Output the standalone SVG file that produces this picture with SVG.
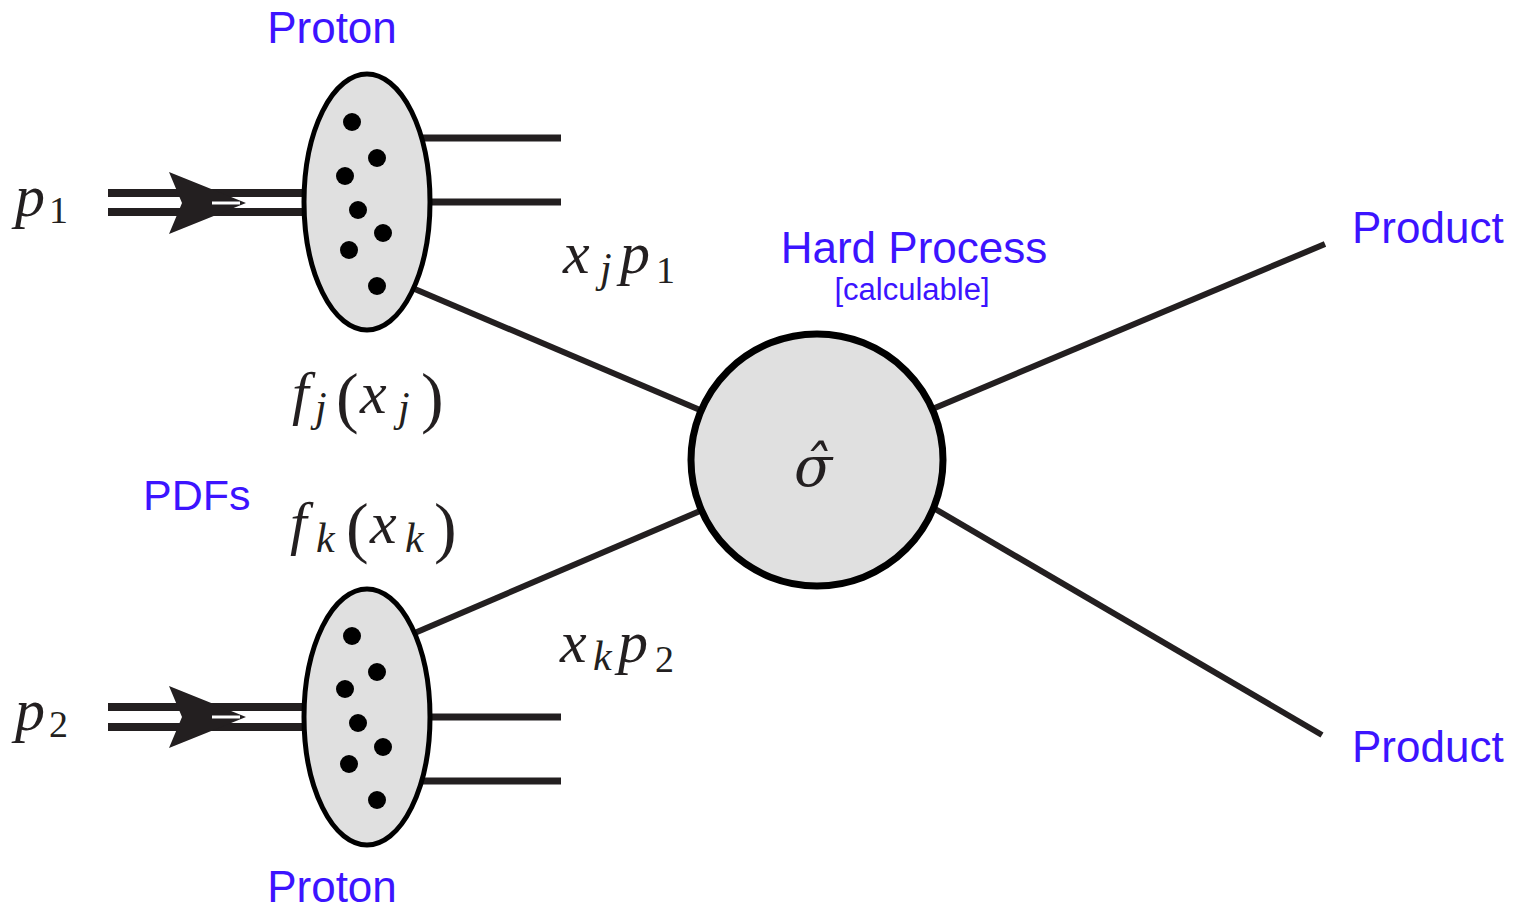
<svg xmlns="http://www.w3.org/2000/svg" width="1523" height="909" viewBox="0 0 1523 909">
<style>
.ln{stroke:#231f20;stroke-linecap:butt;fill:none}
.blob{fill:#e0e0e0;stroke:#000;stroke-width:5}
.dot{fill:#000}
.lbl{font-family:"Liberation Sans",Arial,sans-serif;fill:#3c14ff}
.m{font-family:"Liberation Serif","Times New Roman",serif;fill:#231f20;font-style:italic;font-size:60px}
.r{font-style:normal;font-size:38px}
.s{font-size:42px}
.par{font-style:normal;font-size:68px}
</style>
<defs>
<path id="ah" d="M0,0 L-77,-31 L-64,0 L-77,31 Z" fill="#231f20"/>
</defs>
<rect width="1523" height="909" fill="#fff"/>
<g id="connectors">
<line class="ln" x1="108" y1="193" x2="305" y2="193" stroke-width="8"/>
<line class="ln" x1="108" y1="212" x2="305" y2="212" stroke-width="8"/>
<line class="ln" x1="108" y1="707" x2="305" y2="707" stroke-width="8"/>
<line class="ln" x1="108" y1="727" x2="305" y2="727" stroke-width="8"/>
<line class="ln" x1="420" y1="138" x2="561" y2="138" stroke-width="7"/>
<line class="ln" x1="425" y1="202" x2="561" y2="202" stroke-width="7"/>
<line class="ln" x1="425" y1="717" x2="561" y2="717" stroke-width="7"/>
<line class="ln" x1="420" y1="781" x2="561" y2="781" stroke-width="7"/>
<line class="ln" x1="410" y1="287" x2="700" y2="410" stroke-width="6"/>
<line class="ln" x1="410" y1="635" x2="700" y2="511" stroke-width="6"/>
<line class="ln" x1="930" y1="410" x2="1325" y2="244" stroke-width="6"/>
<line class="ln" x1="930" y1="506" x2="1322" y2="735" stroke-width="6"/>
<use href="#ah" x="246" y="203"/>
<use href="#ah" x="246" y="717"/>
<line x1="212" y1="203" x2="240" y2="203" stroke="#fff" stroke-width="3"/>
<line x1="212" y1="717" x2="240" y2="717" stroke="#fff" stroke-width="3"/>
</g>
<g id="proton1">
<ellipse class="blob" cx="367" cy="202" rx="63" ry="128"/>
<circle class="dot" cx="352" cy="122" r="9"/>
<circle class="dot" cx="377" cy="158" r="9"/>
<circle class="dot" cx="345" cy="176" r="9"/>
<circle class="dot" cx="358" cy="210" r="9"/>
<circle class="dot" cx="383" cy="233" r="9"/>
<circle class="dot" cx="349" cy="250" r="9"/>
<circle class="dot" cx="377" cy="286" r="9"/>
</g>
<g id="proton2">
<ellipse class="blob" cx="367" cy="717" rx="63" ry="128"/>
<circle class="dot" cx="352" cy="636" r="9"/>
<circle class="dot" cx="377" cy="672" r="9"/>
<circle class="dot" cx="345" cy="689" r="9"/>
<circle class="dot" cx="358" cy="723" r="9"/>
<circle class="dot" cx="383" cy="747" r="9"/>
<circle class="dot" cx="349" cy="764" r="9"/>
<circle class="dot" cx="377" cy="800" r="9"/>
</g>
<g id="hard">
<circle cx="817" cy="460" r="126" fill="#e0e0e0" stroke="#000" stroke-width="7"/>
<text x="813" y="486" text-anchor="middle" style="font-family:'DejaVu Serif',serif;font-style:italic;font-size:56px;fill:#231f20">σ̂</text>
</g>
<g id="labels">
<text class="lbl" x="332" y="43" font-size="44" text-anchor="middle">Proton</text>
<text class="lbl" x="332" y="902" font-size="44" text-anchor="middle">Proton</text>
<text class="lbl" x="914" y="263" font-size="44" text-anchor="middle">Hard Process</text>
<text class="lbl" x="912" y="300" font-size="31" text-anchor="middle">[calculable]</text>
<text class="lbl" x="1352" y="243" font-size="44">Product</text>
<text class="lbl" x="1352" y="762" font-size="44">Product</text>
<text class="lbl" x="143" y="510" font-size="43">PDFs</text>
<text class="m"><tspan x="15" y="216">p</tspan><tspan class="r" x="49" y="223">1</tspan></text>
<text class="m"><tspan x="15" y="730">p</tspan><tspan class="r" x="49" y="737">2</tspan></text>
<text class="m"><tspan x="563" y="273">x</tspan><tspan class="s" x="600" y="282">j</tspan><tspan x="620" y="273">p</tspan><tspan class="r" x="656" y="283">1</tspan></text>
<text class="m"><tspan x="560" y="662">x</tspan><tspan class="s" x="593" y="670">k</tspan><tspan x="618" y="662">p</tspan><tspan class="r" x="655" y="672">2</tspan></text>
<text class="m"><tspan x="292" y="413">f</tspan><tspan class="s" x="315" y="421">j</tspan><tspan class="par" x="336" y="420">(</tspan><tspan x="360" y="413">x</tspan><tspan class="s" x="398" y="421">j</tspan><tspan class="par" x="421" y="420">)</tspan></text>
<text class="m"><tspan x="290" y="543">f</tspan><tspan class="s" x="316" y="552">k</tspan><tspan class="par" x="346" y="550">(</tspan><tspan x="370" y="543">x</tspan><tspan class="s" x="405" y="552">k</tspan><tspan class="par" x="434" y="550">)</tspan></text>
</g>
</svg>
